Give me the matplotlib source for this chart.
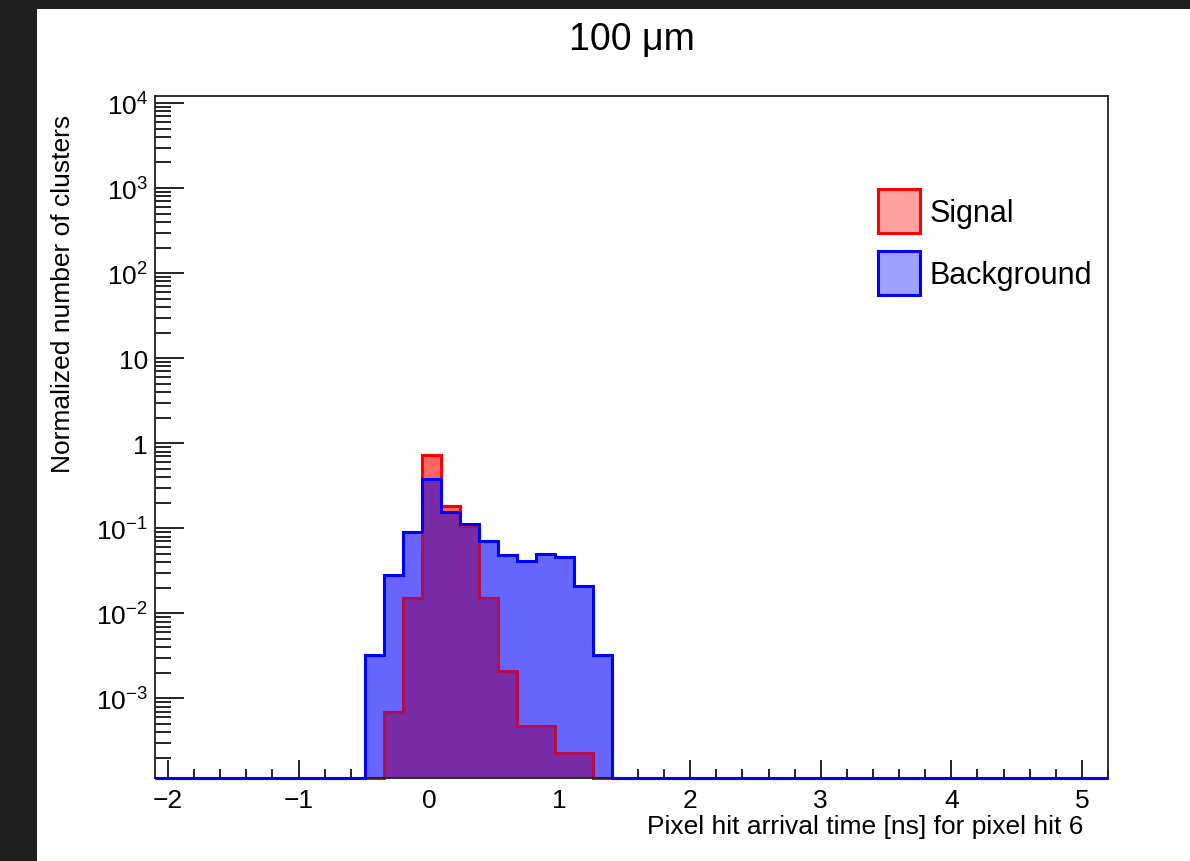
import numpy as np
import matplotlib
matplotlib.use("Agg")
import matplotlib.pyplot as plt
from matplotlib.patches import Patch, Rectangle
from matplotlib.ticker import FixedLocator, MultipleLocator, LogLocator, NullFormatter

plt.rcParams['font.family'] = ['Liberation Sans', 'DejaVu Sans']
plt.rcParams['mathtext.fontset'] = 'custom'
plt.rcParams['mathtext.rm'] = 'Liberation Sans'
plt.rcParams['mathtext.it'] = 'Liberation Sans:italic'
plt.rcParams['mathtext.bf'] = 'Liberation Sans:bold'

# ---------------- data ----------------
x_min, x_max, n_bins = -2.1, 5.2, 50
title = "100 μm"
x_label = "Pixel hit arrival time [ns] for pixel hit 6"
y_label = "Normalized number of clusters"
series_names = ["Signal", "Background"]

signal = [0]*12 + [0.00069, 0.0152, 0.72, 0.183, 0.106, 0.0152, 0.0021,
                   0.00047, 0.00047, 0.00023, 0.00023] + [0]*27
background = [0]*11 + [0.0032, 0.0284, 0.091, 0.38, 0.157, 0.112, 0.0711,
                       0.0481, 0.0408, 0.0503, 0.046, 0.0207, 0.0032] + [0]*26

y_tick_vals = [1e-3, 1e-2, 1e-1, 1, 10, 1e2, 1e3, 1e4]
y_tick_labels = [r"$10^{-3}$", r"$10^{-2}$", r"$10^{-1}$", "1", "10",
                 r"$10^{2}$", r"$10^{3}$", r"$10^{4}$"]
x_ticks = [-2, -1, 0, 1, 2, 3, 4, 5]
y_lim = (1.16e-4, 1.21e4)

# ---------------- figure ----------------
W, H = 1190, 862
fig = plt.figure(figsize=(W/100, H/100), dpi=100)
fig.patch.set_facecolor('#1f1f1f')
fig.patches.append(Rectangle((37/W, 0), 1 - 37/W, 1 - 10/H, transform=fig.transFigure,
                             facecolor='white', edgecolor='none', zorder=-10))

ax = fig.add_axes([155/W, 1 - 779/H, (1108-155)/W, (779-97)/H])
ax.set_facecolor('white')

edges = np.linspace(x_min, x_max, n_bins + 1)
ymin = y_lim[0]
sig = np.where(np.array(signal) > 0, signal, ymin)
bkg = np.where(np.array(background) > 0, background, ymin)
overlap = np.minimum(sig, bkg)

ax.set_yscale('log')
# fills: background only, signal only, overlap (as rendered by the translucent ROOT fills)
bkg_fill = ax.stairs(bkg, edges, baseline=ymin, fill=True, facecolor='#6666ff',
                     linewidth=0, zorder=2)
ax.stairs(sig, edges, baseline=ymin, fill=True, facecolor='#ff6666',
          linewidth=0, zorder=2.1)
ax.stairs(overlap, edges, baseline=ymin, fill=True, facecolor='#7a2ca6',
          linewidth=0, zorder=2.2)
# signal outline: red, shaded where it lies under the background fill
ax.stairs(sig, edges, baseline=ymin, fill=False, edgecolor='#ff0000', linewidth=2.2,
          zorder=3, clip_on=False)
sig_shaded = ax.stairs(sig, edges, baseline=ymin, fill=False, edgecolor='#b0104f',
                       linewidth=2.2, zorder=3.1)
sig_shaded.set_clip_path(bkg_fill)
# background outline
ax.stairs(bkg, edges, baseline=ymin, fill=False, edgecolor='#0000ff', linewidth=2.2,
          zorder=7, clip_on=False)

ax.set_xlim(x_min, x_max)
ax.set_ylim(*y_lim)

ax.xaxis.set_major_locator(FixedLocator(x_ticks))
ax.set_xticklabels([str(t).replace('-', '\u2212') for t in x_ticks])
ax.xaxis.set_minor_locator(MultipleLocator(0.2))
ax.yaxis.set_major_locator(FixedLocator(y_tick_vals))
ax.set_yticklabels(y_tick_labels)
ax.yaxis.set_minor_locator(LogLocator(base=10, subs=np.arange(2, 10), numticks=20))
ax.yaxis.set_minor_formatter(NullFormatter())

ax.tick_params(axis='x', which='major', direction='in', length=13, width=1.2,
               labelsize=19, pad=7, top=False)
ax.tick_params(axis='x', which='minor', direction='in', length=6.5, width=1.2, top=False)
ax.tick_params(axis='y', which='major', direction='in', length=21, width=1.2,
               labelsize=19, pad=5, right=False)
ax.tick_params(axis='y', which='minor', direction='in', length=11.5, width=1.2, right=False)

for s in ax.spines.values():
    s.set_linewidth(1.3)
    s.set_color('#222222')
    s.set_zorder(6)

ax.set_xlabel(x_label, fontsize=19, ha='right', va='top')
ax.xaxis.set_label_coords((1083-155)/953, (779-815)/682)
ax.set_ylabel(y_label, fontsize=19, ha='right', va='bottom')
ax.yaxis.set_label_coords((75-155)/953, (779-115)/682)

fig.text(632/W, 1 - 40/H, title, fontsize=27, ha='center', va='center')

handles = [Patch(facecolor='#ffa0a0', edgecolor='#ff0000', linewidth=2.2),
           Patch(facecolor='#a0a0ff', edgecolor='#0000ff', linewidth=2.2)]
leg = ax.legend(handles, series_names, loc='upper left',
                bbox_to_anchor=((878-155)/953, (779-190)/682),
                frameon=False, fontsize=22, handlelength=1.37, handleheight=1.82,
                handletextpad=0.33, labelspacing=0.6, borderaxespad=0, borderpad=0)

fig.savefig("out.png", dpi=100, facecolor=fig.get_facecolor())
